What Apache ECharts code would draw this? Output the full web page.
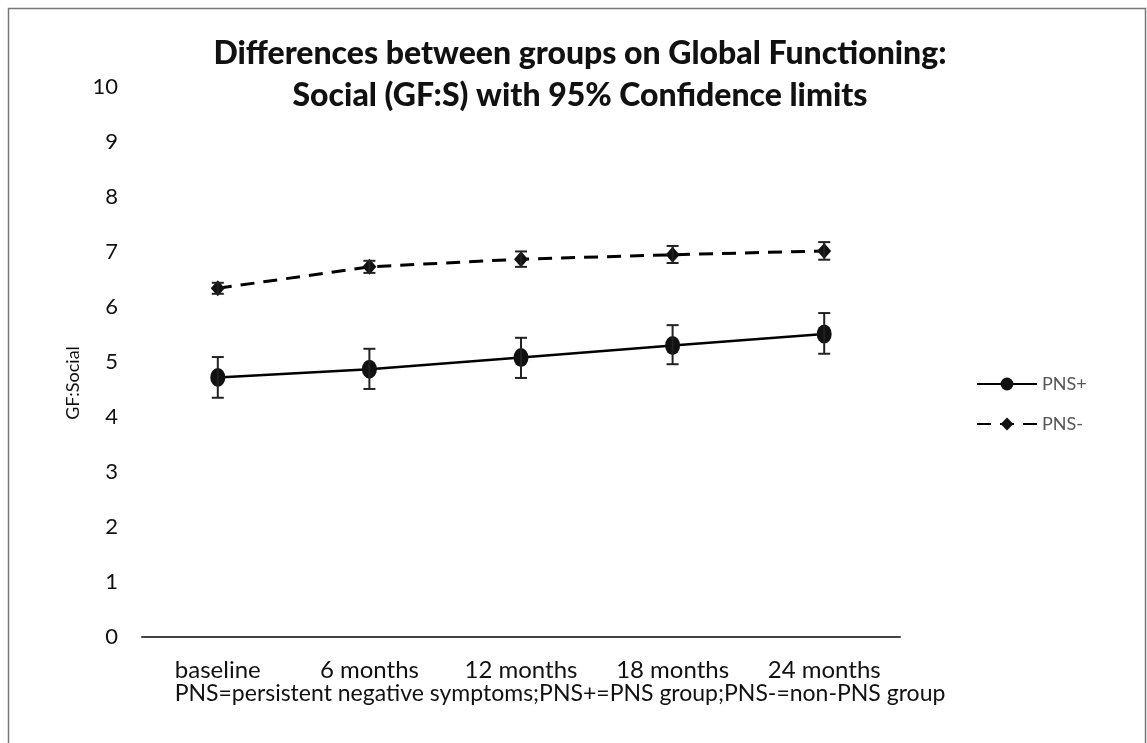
<!DOCTYPE html>
<html>
<head>
<meta charset="utf-8">
<script src="https://cdn.jsdelivr.net/npm/echarts@6/dist/echarts.min.js"></script>
<style>
html,body{margin:0;padding:0;background:#fff;}
#chart{width:1147px;height:743px;}
</style>
</head>
<body>
<div id="chart"></div>
<script>
const categories = ['baseline', '6 months', '12 months', '18 months', '24 months'];
const pnsPlus = [4.72, 4.87, 5.08, 5.30, 5.51];
const pnsPlusLow = [4.35, 4.51, 4.71, 4.96, 5.15];
const pnsPlusHigh = [5.09, 5.24, 5.44, 5.67, 5.89];
const pnsMinus = [6.34, 6.73, 6.87, 6.95, 7.02];
const pnsMinusLow = [6.24, 6.62, 6.73, 6.80, 6.86];
const pnsMinusHigh = [6.44, 6.84, 7.01, 7.11, 7.18];
const yTicks = [0, 1, 2, 3, 4, 5, 6, 7, 8, 9, 10];

const font = 'Lato, "Open Sans", sans-serif';

function errorData(low, high) {
  return categories.map((c, i) => [i, low[i], high[i]]);
}

function renderError(params, api) {
  const x = api.value(0);
  const lo = api.coord([x, api.value(1)]);
  const hi = api.coord([x, api.value(2)]);
  const cap = 6;
  const style = { stroke: '#222', lineWidth: 2 };
  return {
    type: 'group',
    children: [
      { type: 'line', shape: { x1: lo[0], y1: lo[1], x2: hi[0], y2: hi[1] }, style },
      { type: 'line', shape: { x1: lo[0] - cap, y1: lo[1], x2: lo[0] + cap, y2: lo[1] }, style },
      { type: 'line', shape: { x1: hi[0] - cap, y1: hi[1], x2: hi[0] + cap, y2: hi[1] }, style }
    ]
  };
}

const chart = echarts.init(document.getElementById('chart'), null, { renderer: 'canvas' });
chart.setOption({
  backgroundColor: '#fff',
  animation: false,
  title: {
    text: 'Differences between groups on Global Functioning:\nSocial (GF:S) with 95% Confidence limits',
    left: 575,
    textAlign: 'center',
    top: 28,
    textStyle: { fontFamily: font, fontSize: 32, fontWeight: 900, color: '#111', lineHeight: 42 }
  },
  graphic: [
    { type: 'rect', shape: { x: 8.5, y: 8.5, width: 1137, height: 740 }, style: { fill: 'none', stroke: '#777', lineWidth: 1.5 }, silent: true },
    { type: 'text', x: 560, y: 694, style: { text: 'PNS=persistent negative symptoms;PNS+=PNS group;PNS-=non-PNS group', font: '23px ' + font, fill: '#111', align: 'center', verticalAlign: 'middle' } },
    { type: 'text', x: 73, y: 383, rotation: Math.PI / 2, style: { text: 'GF:Social', font: '18px ' + font, fill: '#111', align: 'center', verticalAlign: 'middle' } }
  ],
  legend: {
    orient: 'vertical',
    left: 971,
    top: 370,
    itemWidth: 60,
    itemHeight: 16,
    itemGap: 22,
    textStyle: { fontFamily: font, fontSize: 18, color: '#555' },
    data: ['PNS+', 'PNS-']
  },
  grid: { left: 142, right: 247, top: 87, bottom: 106, containLabel: false },
  xAxis: {
    type: 'category',
    data: categories,
    axisLine: { lineStyle: { color: '#444', width: 2 } },
    axisTick: { show: false },
    axisLabel: { fontFamily: font, fontSize: 24, color: '#111', margin: 21, interval: 0 }
  },
  yAxis: {
    type: 'value',
    min: 0,
    max: 10,
    interval: 1,
    axisLine: { show: false },
    axisTick: { show: false },
    splitLine: { show: false },
    axisLabel: {
      fontFamily: font, fontSize: 22, color: '#111', margin: 24,
      formatter: v => yTicks.includes(v) ? String(v) : ''
    }
  },
  series: [
    {
      name: 'PNS+',
      type: 'line',
      data: pnsPlus,
      symbol: 'circle',
      symbolSize: [15, 19],
      lineStyle: { color: '#000', width: 2.5 },
      itemStyle: { color: '#111' },
      z: 3
    },
    {
      name: 'PNS-',
      type: 'line',
      data: pnsMinus,
      symbol: 'diamond',
      symbolSize: [14, 16],
      lineStyle: { color: '#000', width: 3, type: [14, 9] },
      itemStyle: { color: '#111' },
      z: 3
    },
    {
      type: 'custom',
      renderItem: renderError,
      data: errorData(pnsPlusLow, pnsPlusHigh),
      encode: { x: 0, y: [1, 2] },
      z: 4,
      silent: true
    },
    {
      type: 'custom',
      renderItem: renderError,
      data: errorData(pnsMinusLow, pnsMinusHigh),
      encode: { x: 0, y: [1, 2] },
      z: 4,
      silent: true
    }
  ]
});
</script>
</body>
</html>
